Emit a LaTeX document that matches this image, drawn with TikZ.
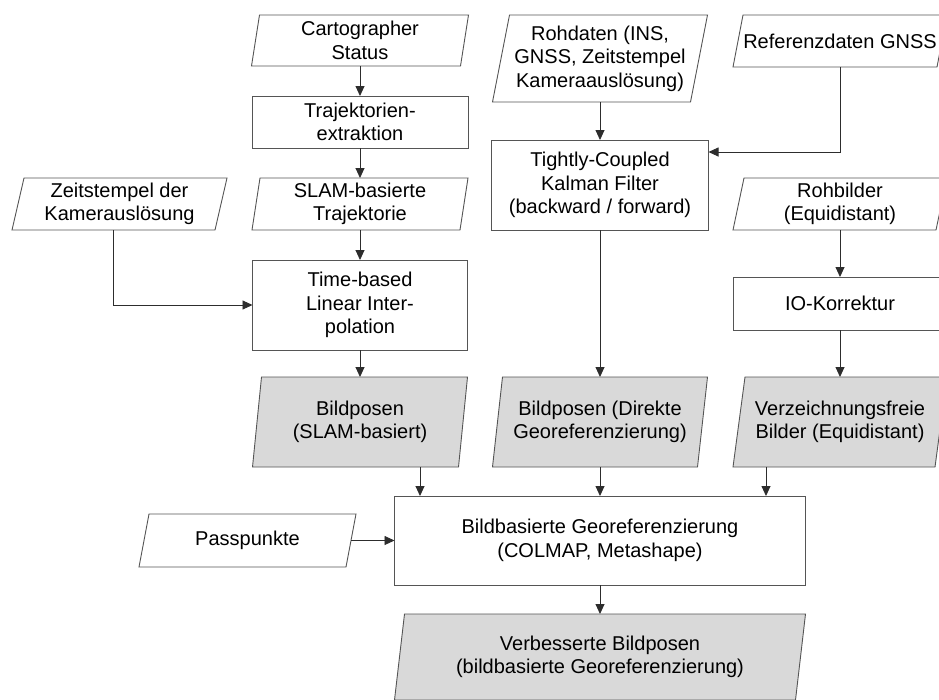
\documentclass[tikz,border=0pt]{standalone}
\usepackage{fontspec}
\setmainfont{Liberation Sans}
\usetikzlibrary{arrows.meta,backgrounds}
\definecolor{linegray}{RGB}{85,85,85}
\definecolor{arrowgray}{RGB}{45,45,45}
\definecolor{boxgray}{RGB}{217,217,217}
\begin{document}
\begin{tikzpicture}[x=1pt,y=-1pt,
  txt/.style={font=\fontsize{20pt}{23.5pt}\selectfont, align=center, inner sep=0pt, outer sep=0pt, text=black},
  procbox/.style={txt, draw=linegray, line width=0.9pt, fill=white},
  iobox/.style={txt},
  conn/.style={draw=arrowgray, line width=0.9pt, -{Triangle[width=9pt,length=10pt]}},
  outline/.style={draw=linegray, line width=0.9pt}]
\useasboundingbox (0,0) rectangle (939,699);

% column 1
\node[iobox, minimum width=217pt, minimum height=51pt] (cart) at (360,40.5) {Cartographer\\Status};
\node[procbox, minimum width=216pt, minimum height=52pt] (traj) at (360,122) {Trajektorien-\\extraktion};
\node[iobox, minimum width=216pt, minimum height=52pt] (slam) at (360,204) {SLAM-basierte\\Trajektorie};
\node[iobox, minimum width=215pt, minimum height=52pt] (zeit) at (119.5,204) {Zeitstempel der\\Kamerauslösung};
\node[procbox, minimum width=215pt, minimum height=90pt] (tb) at (360,305) {Time-based\\Linear Inter-\\polation};
\node[iobox, minimum width=215pt, minimum height=90pt] (bpslam) at (360,422) {Bildposen\\(SLAM-basiert)};

% column 2
\node[iobox, minimum width=215pt, minimum height=87pt] (roh) at (600,58.5) {Rohdaten (INS,\\GNSS, Zeitstempel\\Kameraauslösung)};
\node[procbox, minimum width=217pt, minimum height=90pt] (kal) at (600,185) {Tightly-Coupled\\Kalman Filter\\(backward / forward)};
\node[iobox, minimum width=215pt, minimum height=90pt] (bpdir) at (600,422) {Bildposen (Direkte\\Georeferenzierung)};

% column 3
\node[iobox, minimum width=214pt, minimum height=52pt] (ref) at (840,41) {Referenzdaten GNSS};
\node[iobox, minimum width=214pt, minimum height=52pt] (rohb) at (840,204) {Rohbilder\\(Equidistant)};
\node[procbox, minimum width=214pt, minimum height=53pt] (io) at (840,303.5) {IO-Korrektur};
\node[iobox, minimum width=214pt, minimum height=90pt] (verz) at (840,422) {Verzeichnungsfreie\\Bilder (Equidistant)};

% bottom
\node[iobox, minimum width=217pt, minimum height=53pt] (pass) at (247.5,540.5) {Passpunkte};
\node[procbox, minimum width=411pt, minimum height=89pt] (bb) at (600,540.5) {Bildbasierte Georeferenzierung\\(COLMAP, Metashape)};
\node[iobox, minimum width=411pt, minimum height=86pt] (verb) at (600,657) {Verbesserte Bildposen\\(bildbasierte Georeferenzierung)};

% parallelogram outlines
\begin{scope}[on background layer]
\foreach \n/\s/\f in {cart/8/white, slam/8/white, zeit/12/white, bpslam/9/boxgray,
                      roh/17/white, bpdir/10/boxgray,
                      ref/10/white, rohb/11/white, verz/12/boxgray,
                      pass/10/white, verb/10/boxgray}
  \filldraw[outline, fill=\f] ([xshift=\s pt]\n.north west) -- (\n.north east)
     -- ([xshift=-\s pt]\n.south east) -- (\n.south west) -- cycle;
\end{scope}

% connectors
\draw[conn] (cart.south) -- (traj.north);
\draw[conn] (traj.south) -- (slam.north);
\draw[conn] (slam.south) -- (tb.north);
\draw[conn] (tb.south) -- (bpslam.north);
\draw[conn] (zeit.south -| 113,0) |- (tb.west);
\draw[conn] (roh.south) -- (kal.north);
\draw[conn] (ref.south) |- (kal.east |- 0,152);
\draw[conn] (kal.south) -- (bpdir.north);
\draw[conn] (rohb.south) -- (io.north);
\draw[conn] (io.south) -- (verz.north);
\draw[conn] (bpslam.south -| 420,0) -- (bb.north -| 420,0);
\draw[conn] (bpdir.south) -- (bb.north);
\draw[conn] (verz.south -| 766,0) -- (bb.north -| 766,0);
\draw[conn] ([xshift=-5pt]pass.east) -- (bb.west);
\draw[conn] (bb.south) -- (verb.north);
\end{tikzpicture}
\end{document}
